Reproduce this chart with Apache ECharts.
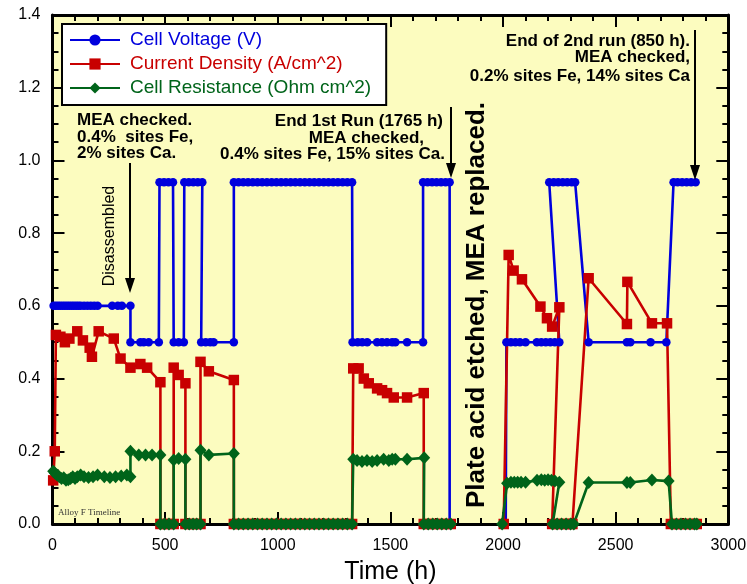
<!DOCTYPE html>
<html><head><meta charset="utf-8">
<script src="https://cdn.jsdelivr.net/npm/echarts@6/dist/echarts.min.js"></script>
<style>html,body{margin:0;padding:0;background:#fff}#c{width:747px;height:584px}</style>
</head><body><div id="c"></div>
<script>
// ---- data (time in h, value) ; '-' marks a gap in the trace ----
const cellVoltage = [
 [5,0.6],[15,0.6],[25,0.6],[35,0.6],[45,0.6],[55,0.6],[65,0.6],[75,0.6],[85,0.6],[95,0.6],[105,0.6],[115,0.6],[125,0.6],[140,0.6],[155,0.6],[170,0.6],[185,0.6],[200,0.6],[265,0.6],[290,0.6],[308,0.6],[346,0.6],
 [346,0.5],[390,0.5],[405,0.5],[427,0.5],[472,0.5],
 [475,0.94],[495,0.94],[515,0.94],[535,0.94],
 [538,0.5],[560,0.5],[583,0.5],
 [585,0.94],[605,0.94],[625,0.94],[645,0.94],[665,0.94],
 [660,0.5],[680,0.5],[700,0.5],[715,0.5],[805,0.5],
 [805,0.94],[826,0.94],[847,0.94],[868,0.94],[889,0.94],[910,0.94],[931,0.94],[952,0.94],[973,0.94],[994,0.94],[1015,0.94],[1036,0.94],[1057,0.94],[1078,0.94],[1099,0.94],[1120,0.94],[1141,0.94],[1162,0.94],[1183,0.94],[1204,0.94],[1225,0.94],[1246,0.94],[1267,0.94],[1288,0.94],[1309,0.94],[1330,0.94],
 [1332,0.5],[1355,0.5],[1375,0.5],[1397,0.5],[1441,0.5],[1463,0.5],[1485,0.5],[1508,0.5],[1522,0.5],[1574,0.5],[1645,0.5],
 [1645,0.94],[1665,0.94],[1685,0.94],[1705,0.94],[1725,0.94],[1745,0.94],[1763,0.94],
 [1763,0],[1800,'-'],[2012,0],
 [2015,0.5],[2035,0.5],[2055,0.5],[2075,0.5],[2100,0.5],[2150,0.5],[2170,0.5],[2190,0.5],[2210,0.5],[2230,0.5],[2250,0.5],
 [2205,0.94],[2225,0.94],[2245,0.94],[2265,0.94],[2285,0.94],[2305,0.94],[2320,0.94],
 [2380,0.5],[2550,0.5],[2565,0.5],[2655,0.5],[2725,0.5],
 [2757,0.94],[2775,0.94],[2795,0.94],[2815,0.94],[2835,0.94],[2855,0.94]
];
const currentDensity = [
 [3,0.12],[10,0.2],[15,0.52],[35,0.515],[55,0.5],[75,0.51],[110,0.53],[135,0.505],[165,0.485],[175,0.46],[205,0.53],[272,0.51],[302,0.455],[346,0.43],[390,0.44],[420,0.43],[479,0.39],
 [479,0],[497,0],[517,0],[538,0],
 [538,0.43],[560,0.41],[590,0.387],
 [590,0],[607,0],[624,0],[640,0],[657,0],
 [657,0.446],[694,0.42],[805,0.396],
 [805,0],[826,0],[847,0],[868,0],[889,0],[910,0],[931,0],[952,0],[973,0],[994,0],[1015,0],[1036,0],[1057,0],[1078,0],[1099,0],[1120,0],[1141,0],[1162,0],[1183,0],[1204,0],[1225,0],[1246,0],[1267,0],[1288,0],[1309,0],[1330,0],
 [1335,0.428],[1359,0.428],[1382,0.4],[1404,0.387],[1441,0.373],[1463,0.368],[1485,0.36],[1515,0.348],[1574,0.348],[1648,0.36],
 [1648,0],[1668,0],[1688,0],[1708,0],[1728,0],[1748,0],[1768,0],
 [1800,'-'],
 [2003,0],[2025,0.74],[2047,0.697],[2084,0.673],[2166,0.598],[2195,0.566],[2218,0.543],[2250,0.596],
 [2218,0],[2238,0],[2258,0],[2278,0],[2298,0],[2308,0],
 [2380,0.676],[2550,0.55],[2552,0.666],[2661,0.552],[2728,0.552],
 [2745,0],[2765,0],[2785,0],[2805,0],[2825,0],[2845,0],[2860,0]
];
const cellResistance = [
 [3,0.145],[10,0.14],[20,0.135],[30,0.13],[40,0.125],[50,0.127],[60,0.12],[70,0.122],[80,0.125],[90,0.13],[100,0.125],[110,0.13],[125,0.135],[140,0.13],[160,0.128],[180,0.13],[200,0.135],[230,0.13],[255,0.128],[280,0.13],[305,0.132],[330,0.135],[346,0.13],
 [346,0.2],[383,0.19],[413,0.19],[442,0.19],[479,0.19],
 [479,0],[497,0],[517,0],[538,0],
 [538,0.176],[560,0.18],[590,0.178],
 [590,0],[607,0],[624,0],[640,0],[657,0],
 [657,0.203],[694,0.19],[805,0.194],
 [805,0],[826,0],[847,0],[868,0],[889,0],[910,0],[931,0],[952,0],[973,0],[994,0],[1015,0],[1036,0],[1057,0],[1078,0],[1099,0],[1120,0],[1141,0],[1162,0],[1183,0],[1204,0],[1225,0],[1246,0],[1267,0],[1288,0],[1309,0],[1330,0],
 [1335,0.178],[1352,0.175],[1374,0.172],[1396,0.175],[1419,0.172],[1441,0.175],[1470,0.178],[1493,0.175],[1508,0.178],[1522,0.178],[1574,0.178],[1650,0.182],
 [1648,0],[1668,0],[1688,0],[1708,0],[1728,0],[1748,0],[1768,0],
 [1800,'-'],
 [1996,0],[2018,0.112],[2035,0.115],[2050,0.115],[2065,0.115],[2080,0.115],[2100,0.115],[2151,0.12],[2170,0.122],[2185,0.12],[2200,0.122],[2215,0.12],[2230,0.118],[2250,0.115],
 [2220,0],[2240,0],[2260,0],[2280,0],[2300,0],[2314,0],
 [2380,0.114],[2550,0.114],[2565,0.114],[2661,0.121],[2735,0.118],
 [2750,0],[2770,0],[2790,0],[2810,0],[2830,0],[2850,0],[2860,0]
];
const seriesNames = ['Cell Voltage (V)','Current Density (A/cm^2)','Cell Resistance (Ohm cm^2)'];
const xAxisName = 'Time (h)';
const note1 = ['MEA checked.','0.4%  sites Fe,','2% sites Ca.'];
const note2 = ['End 1st Run (1765 h)','MEA checked,','0.4% sites Fe, 15% sites Ca.'];
const note3 = ['End of 2nd run (850 h).','MEA checked,','0.2% sites Fe, 14% sites Ca'];
const noteDisassembled = 'Disassembled';
const notePlate = 'Plate acid etched, MEA replaced.';
const noteAlloy = 'Alloy F Timeline';

// ---- style ----
const F = '"Liberation Sans", Arial, Helvetica, sans-serif';
const BLUE = '#0000dd', RED = '#c80000', GREEN = '#00641a';

function txt(x, y, t, font, align, rot) {
  return { type:'text', x:x, y:y, rotation: rot || 0, z:50,
    style:{ text:t, font:font, fill:'#000', align:align, textAlign:align, verticalAlign:'middle', textVerticalAlign:'middle' } };
}
function arrow(x, y1, y2) {
  return [
    { type:'line', z:50, shape:{x1:x, y1:y1, x2:x, y2:y2-12}, style:{stroke:'#000', lineWidth:2} },
    { type:'polygon', z:50, shape:{points:[[x-5,y2-15],[x+5,y2-15],[x,y2]]}, style:{fill:'#000'} }
  ];
}
const B17 = 'bold 17px ' + F;
const graphics = [
  txt(77,120,note1[0],B17,'left'), txt(77,137,note1[1],B17,'left'), txt(77,153,note1[2],B17,'left'),
  txt(443,121,note2[0],B17,'right'), txt(424,138,note2[1],B17,'right'), txt(445,154,note2[2],B17,'right'),
  txt(690,41,note3[0],B17,'right'), txt(690,57.5,note3[1],B17,'right'), txt(690,76,note3[2],B17,'right'),
  txt(109.5,236,noteDisassembled,'16px ' + F,'center',Math.PI/2),
  txt(477,305,notePlate,'bold 26px ' + F,'center',Math.PI/2),
  { type:'text', x:58, y:512.5, z:50, style:{text:noteAlloy, font:'9px "Liberation Serif", "Times New Roman", serif', fill:'#333', align:'left', textAlign:'left', verticalAlign:'middle', textVerticalAlign:'middle'} }
].concat(arrow(130,163,293), arrow(451,107,178), arrow(695,30,180));

function prep(arr, hideZeroSymbol) {
  return arr.map(p => (hideZeroSymbol && p[1] === 0) ? {value:p, symbol:'none'} : p);
}
function mkSeries(name, data, color, symbol, size) {
  return { type:'line', name:name, data:data, xAxisIndex:0, yAxisIndex:0,
    symbol:symbol, symbolSize:size, showSymbol:true, showAllSymbol:true, connectNulls:false,
    lineStyle:{color:color, width:2.6}, itemStyle:{color:color}, emphasis:{disabled:true}, clip:true };
}

const tickStyle = {color:'#000', width:2};
function xAx(pos, show) {
  return { type:'value', min:0, max:3000, interval:500, position:pos,
    axisLine:{show:true, onZero:false, lineStyle:{color:'#000', width:3}},
    axisTick:{show:true, inside:true, length:12, lineStyle:tickStyle},
    minorTick:{show:true, splitNumber:5, length:6, lineStyle:tickStyle},
    splitLine:{show:false},
    axisLabel:{show:show, color:'#000', fontSize:16, fontFamily:F, margin:13.5, formatter: v => String(v)},
    name: show ? xAxisName : '', nameLocation:'middle', nameGap:36,
    nameTextStyle:{fontSize:25, fontFamily:F, color:'#000'} };
}
function yAx(pos, show) {
  return { type:'value', min:0, max:1.4, interval:0.2, position:pos,
    axisLine:{show:true, onZero:false, lineStyle:{color:'#000', width:3}},
    axisTick:{show:true, inside:true, length:12, lineStyle:tickStyle},
    minorTick:{show:true, splitNumber:4, length:6, lineStyle:tickStyle},
    splitLine:{show:false},
    axisLabel:{show:show, color:'#000', fontSize:16, fontFamily:F, margin:12, formatter: v => v.toFixed(1)} };
}

const chart = echarts.init(document.getElementById('c'), null, {renderer:'canvas'});
chart.setOption({
  animation:false,
  backgroundColor:'#ffffff',
  grid:{left:52.5, right:18.7, top:15, bottom:60, show:true, backgroundColor:'#fcfcbf', borderWidth:0, containLabel:false, outerBoundsMode:'none'},
  xAxis:[xAx('bottom', true), xAx('top', false)],
  yAxis:[yAx('left', true), yAx('right', false)],
  legend:{ left:62, top:24, orient:'vertical', backgroundColor:'#fff', borderColor:'#000', borderWidth:2, borderRadius:0,
    padding:[5,15,6,7], itemGap:2, itemWidth:50, itemHeight:14,
    textStyle:{fontSize:19, fontFamily:F, lineHeight:22, padding:[0,0,0,5]},
    data:[ {name:seriesNames[0], textStyle:{color:BLUE}}, {name:seriesNames[1], textStyle:{color:RED}}, {name:seriesNames[2], textStyle:{color:GREEN}} ] },
  series:[
    mkSeries(seriesNames[0], prep(cellVoltage, true), BLUE, 'circle', 8.5),
    mkSeries(seriesNames[1], prep(currentDensity, false), RED, 'rect', 10.5),
    mkSeries(seriesNames[2], prep(cellResistance, false), GREEN, 'diamond', [12,13])
  ],
  graphic: graphics
});
</script></body></html>
